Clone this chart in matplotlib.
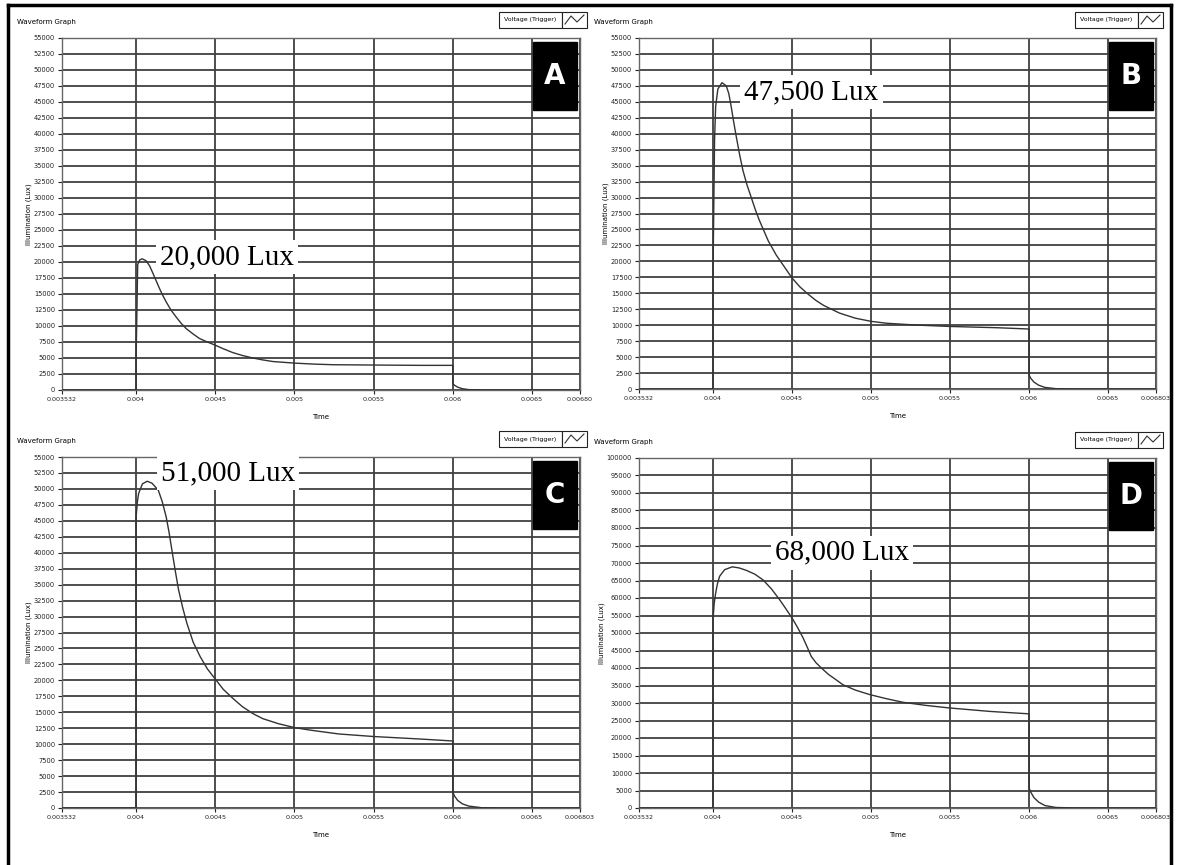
import matplotlib.pyplot as plt
from matplotlib.patches import Rectangle
from matplotlib.lines import Line2D

# ---- data ----
t_a = [0.003532, 0.004, 0.004, 0.00401, 0.004022, 0.004038, 0.004063, 0.004085, 0.004105,
       0.004126, 0.004147, 0.004168, 0.004189, 0.00422, 0.004253, 0.004285, 0.004316, 0.00436,
       0.0044, 0.00445, 0.0045, 0.00455, 0.00461, 0.00467, 0.004737, 0.0048, 0.004863, 0.005,
       0.00512, 0.005242, 0.0055, 0.0058, 0.006, 0.006, 0.00601, 0.00603, 0.00606, 0.0061,
       0.0062, 0.006803]
lux_a = [0, 0, 5000, 19600, 20300, 20500, 20200, 19400, 18300,
         17100, 15900, 14800, 13800, 12500, 11400, 10400, 9600, 8750,
         8050, 7500, 7000, 6450, 5850, 5400, 5000, 4700, 4450, 4200,
         4050, 3950, 3900, 3850, 3850, 1000, 750, 450, 200, 60,
         0, 0]

t_b = [0.003532, 0.004, 0.004, 0.00401, 0.004017, 0.004031, 0.004057, 0.004084, 0.0041,
       0.004115, 0.00413, 0.004147, 0.004168, 0.004189, 0.004215, 0.004241, 0.004268, 0.004294,
       0.00435, 0.0044, 0.00445, 0.0045, 0.00455, 0.0046, 0.00465, 0.0047, 0.0048, 0.0049,
       0.005, 0.0051, 0.0053, 0.0055, 0.0058, 0.006, 0.006, 0.00601, 0.00603, 0.00606,
       0.0061, 0.00617, 0.0063, 0.006803]
lux_b = [0, 0, 17500, 39000, 44300, 47000, 48000, 47500, 46300,
         44300, 42000, 39600, 36800, 34300, 32000, 30100, 28100, 26400,
         23200, 21000, 19200, 17400, 16000, 14900, 13900, 13100, 11900, 11100,
         10600, 10300, 10000, 9800, 9600, 9400, 2200, 1700, 1100, 600,
         250, 50, 0, 0]

t_c = [0.003532, 0.004, 0.004, 0.004008, 0.004016, 0.00404, 0.00407, 0.0041, 0.00414,
       0.004165, 0.00419, 0.004208, 0.004226, 0.004247, 0.004268, 0.004294, 0.00432, 0.00436,
       0.004405, 0.00445, 0.0045, 0.00455, 0.00461, 0.00467, 0.004737, 0.0048, 0.0049, 0.005,
       0.0051, 0.00528, 0.0055, 0.0058, 0.006, 0.006, 0.00601, 0.00603, 0.00606, 0.0061,
       0.00618, 0.0063, 0.006803]
lux_c = [0, 0, 45600, 48000, 49300, 50800, 51200, 50900, 49800,
         48000, 45600, 43200, 40400, 37200, 34200, 31400, 29000, 26000,
         23700, 21800, 20200, 18600, 17200, 15900, 14800, 14000, 13200, 12600,
         12200, 11600, 11200, 10800, 10500, 2500, 1900, 1200, 650, 300,
         50, 0, 0]

t_d = [0.003532, 0.004, 0.004, 0.004008, 0.004017, 0.004028, 0.004042, 0.004074, 0.004122,
       0.004165, 0.004211, 0.004265, 0.004316, 0.00437, 0.004422, 0.00446, 0.0045, 0.004535,
       0.00457, 0.004598, 0.004622, 0.004652, 0.004686, 0.00473, 0.00478, 0.004823, 0.0049,
       0.004992, 0.0051, 0.005203, 0.00535, 0.005492, 0.005751, 0.006, 0.006, 0.00601,
       0.00603, 0.00606, 0.0061, 0.00617, 0.0063, 0.006803]
lux_d = [0, 0, 53800, 58500, 61400, 64000, 66200, 68100, 68900,
         68600, 67900, 66800, 65200, 62600, 59500, 57000, 54300, 51600,
         48600, 45800, 43300, 41500, 40000, 38200, 36600, 35200, 33700,
         32400, 31200, 30200, 29300, 28600, 27600, 26900, 5700, 4600,
         3000, 1700, 700, 150, 0, 0]

x_ticks = [0.003532, 0.004, 0.0045, 0.005, 0.0055, 0.006, 0.0065, 0.006803]
x_labels = ["0.003532", "0.004", "0.0045", "0.005", "0.0055", "0.006", "0.0065", "0.006803"]
x_labels_a = x_labels[:-1] + ["0.00680"]

letters = ["A", "B", "C", "D"]
peak_text = ["20,000 Lux", "47,500 Lux", "51,000 Lux", "68,000 Lux"]
peak_pos = [(0.004576, 20800), (0.004623, 46500), (0.004580, 52500), (0.004816, 72900)]
y_max = [55000, 55000, 55000, 100000]
y_step = [2500, 2500, 2500, 5000]

# ---- layout (pixels of the 1177x865 picture) ----
W, H = 1177, 865
fig = plt.figure(figsize=(W / 100, H / 100), dpi=100)

def fx(px):
    return px / W

def fy(py):
    return 1 - py / H

boxes = [(62, 38, 580, 390), (639, 38, 1156, 389), (62, 457, 580, 808), (639, 458, 1156, 808)]
GRID = "#404040"
LINE = "#333333"

for i, (t, lux) in enumerate([(t_a, lux_a), (t_b, lux_b), (t_c, lux_c), (t_d, lux_d)]):
    l, top, r, b = boxes[i]
    ax = fig.add_axes([fx(l), fy(b), fx(r) - fx(l), fy(top) - fy(b)])
    ax.plot(t, lux, color=LINE, lw=1.0, zorder=3)
    ax.set_xlim(0.003532, 0.006803)
    ax.set_ylim(0, y_max[i])
    ax.set_xticks(x_ticks)
    ax.set_xticklabels(x_labels_a if i == 0 else x_labels, fontsize=4.6)
    ax.set_yticks(range(0, y_max[i] + 1, y_step[i]))
    ax.set_yticklabels([str(v) for v in range(0, y_max[i] + 1, y_step[i])], fontsize=4.8)
    ax.tick_params(length=3, width=0.8, pad=2, colors="#222222")
    ax.grid(True, color=GRID, lw=1.3)
    for s in ax.spines.values():
        s.set_color("#666666")
        s.set_linewidth(1.0)
    ax.set_xlabel("Time", fontsize=5, labelpad=9)
    ax.set_ylabel("Illumination (Lux)", fontsize=5, labelpad=1)

    # letter tag in the top right corner
    ax.add_patch(Rectangle((0.909, 0.795), 0.085, 0.194, transform=ax.transAxes,
                           facecolor="black", edgecolor="black", zorder=5))
    ax.text(0.9515, 0.892, letters[i], transform=ax.transAxes, ha="center", va="center",
            color="white", fontsize=20, fontweight="bold",
            family=["Liberation Sans Narrow", "DejaVu Sans"], zorder=6)

    # peak annotation
    ax.text(peak_pos[i][0], peak_pos[i][1], peak_text[i], ha="center", va="center",
            fontsize=21, family=["Liberation Serif", "DejaVu Serif"], color="black",
            bbox=dict(facecolor="white", edgecolor="none", pad=3), zorder=7)

    # header: title and legend box
    fig.text(fx(l - 45), fy(top - 16), "Waveform Graph", fontsize=5, va="center", ha="left")
    lx = r - 81
    ly = top - 26
    fig.add_artist(Rectangle((fx(lx), fy(ly + 16)), fx(63), 16 / H, transform=fig.transFigure,
                             facecolor="white", edgecolor="#222222", lw=0.8))
    fig.add_artist(Rectangle((fx(lx + 63), fy(ly + 16)), fx(25), 16 / H, transform=fig.transFigure,
                             facecolor="white", edgecolor="#222222", lw=0.8))
    fig.text(fx(lx + 31), fy(ly + 8), "Voltage (Trigger)", fontsize=4.5, ha="center", va="center")
    fig.add_artist(Line2D([fx(lx + 66), fx(lx + 72), fx(lx + 78), fx(lx + 85)],
                          [fy(ly + 12), fy(ly + 4), fy(ly + 10), fy(ly + 3)],
                          transform=fig.transFigure, color="#333333", lw=0.8))

# outer frame
for xs, ys in [((8, 1171), (5, 5)), ((8, 8), (5, 870)), ((1171, 1171), (5, 870))]:
    fig.add_artist(Line2D([fx(xs[0]), fx(xs[1])], [fy(ys[0]), fy(ys[1])],
                          transform=fig.transFigure, color="black", lw=2.5))

fig.savefig("out.png", dpi=100)
